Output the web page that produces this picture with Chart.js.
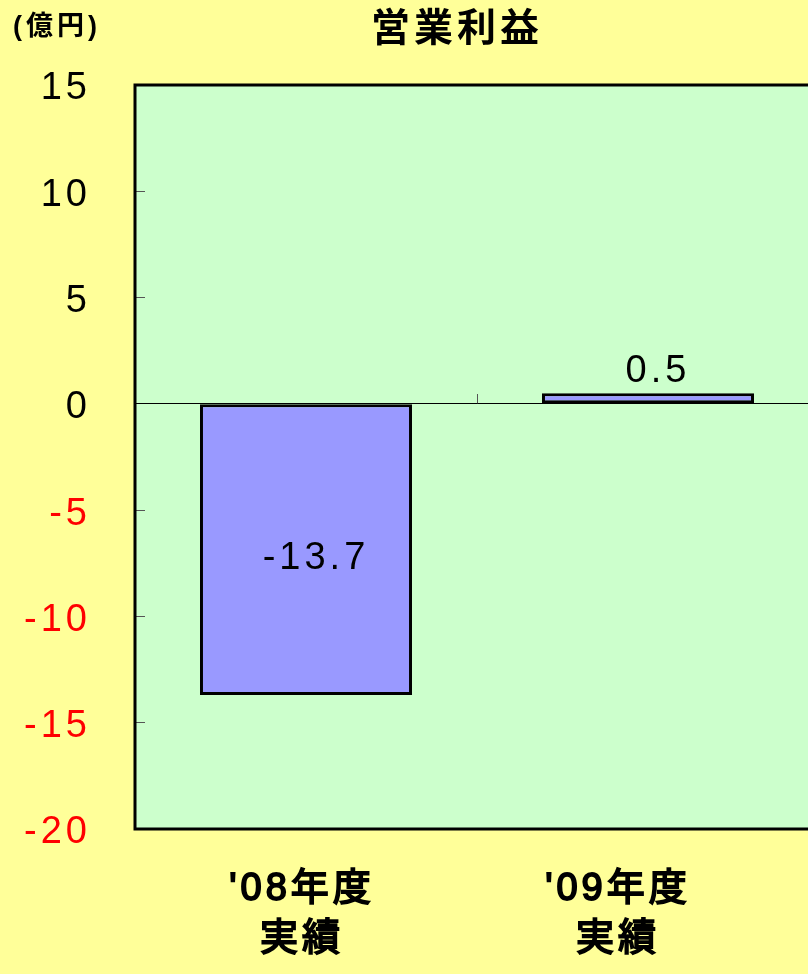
<!DOCTYPE html>
<html>
<head>
<meta charset="utf-8">
<script src="https://cdn.jsdelivr.net/npm/chart.js@4/dist/chart.umd.min.js"></script>
<style>
body { margin: 0; background: #FFFF99; overflow: hidden; }
</style>
</head>
<body>
<canvas id="myChart" width="830" height="974"></canvas>
<script>
// data
const categories = ["'08年度", "'09年度"];
const subLabels = ['実績', '実績'];
const profit = [-13.7, 0.5];
const yTicks = [-20, -15, -10, -5, 0, 5, 10, 15];
const chartTitle = '営業利益';
const unitLabel = '(億円)';

const family = "'Liberation Sans', 'Noto Sans CJK JP', sans-serif";

// yellow page, green plot, wide glyph spacing like the original
const paintBg = {
    id: 'paintBg',
    afterLayout: (chart) => {
        // title is centred a bit left of the plot in the original
        chart.titleBlock.left = 95;
    },
    beforeDraw: (chart) => {
        const {ctx, chartArea: {left, top, right, bottom}} = chart;
        ctx.save();
        ctx.fillStyle = '#FFFF99';
        ctx.fillRect(0, 0, chart.width, chart.height);
        ctx.fillStyle = '#CCFFCC';
        ctx.fillRect(left, top, right - left, bottom - top);
        ctx.restore();
        ctx.letterSpacing = '4px';
    },
    afterDraw: (chart) => {
        const {ctx, chartArea: {left, top, right, bottom}} = chart;
        ctx.save();
        ctx.strokeStyle = '#000';
        ctx.lineWidth = 3;
        ctx.strokeRect(left, top, right - left, bottom - top);
        ctx.font = 'bold 27px ' + family;
        ctx.fillStyle = '#000';
        ctx.textAlign = 'center';
        ctx.textBaseline = 'middle';
        ctx.fillText(unitLabel, 57, 28);
        ctx.restore();
    }
};

const valueLabels = {
    id: 'valueLabels',
    afterDatasetsDraw: (chart) => {
        const {ctx} = chart;
        const meta = chart.getDatasetMeta(0);
        ctx.save();
        ctx.font = '38px ' + family;
        ctx.fillStyle = '#000';
        ctx.textAlign = 'center';
        ctx.textBaseline = 'middle';
        meta.data.forEach((bar, i) => {
            const v = profit[i];
            const y = v < 0 ? (bar.y + bar.base) / 2 + 9 : bar.y - 22;
            ctx.fillText(String(v), bar.x + 10, y);
        });
        ctx.restore();
    }
};

const config = {
    type: 'bar',
    data: {
        labels: categories,
        datasets: [{
            data: profit,
            xAxisID: 'x',
            yAxisID: 'y',
            backgroundColor: '#9999FF',
            borderColor: '#000',
            borderWidth: 3,
            borderSkipped: false,
            categoryPercentage: 1,
            barPercentage: 0.62
        }]
    },
    options: {
        responsive: false,
        animation: false,
        devicePixelRatio: 1,
        layout: {padding: {left: 0, right: 11, top: 0, bottom: 14}},
        plugins: {
            legend: {display: false},
            tooltip: {enabled: false},
            title: {
                display: true,
                text: chartTitle,
                color: '#000',
                font: {size: 39, weight: 'bold', family: family},
                padding: {top: 7, bottom: 31.2}
            }
        },
        scales: {
            x: {
                type: 'category',
                position: {y: 0},
                grid: {offset: true, drawOnChartArea: false, tickLength: -10, color: '#555'},
                border: {color: '#000', width: 1},
                ticks: {display: false}
            },
            xLabels: {
                type: 'linear',
                axis: 'x',
                position: 'bottom',
                offset: false,
                bounds: 'data',
                min: -0.5285,
                max: 1.6361,
                afterBuildTicks: (scale) => {
                    scale.ticks = categories.map((c, i) => ({value: i}));
                },
                afterFit: (scale) => { scale.height = 131; },
                grid: {display: false, drawTicks: false, offset: false},
                border: {display: false},
                ticks: {
                    padding: 36,
                    color: '#000',
                    textStrokeColor: '#000',
                    textStrokeWidth: 1.8,
                    maxRotation: 0,
                    autoSkip: false,
                    font: {size: 38, family: family, lineHeight: 50 / 38},
                    callback: (value) => [categories[value], subLabels[value]]
                }
            },
            y: {
                position: 'left',
                min: yTicks[0],
                max: yTicks[yTicks.length - 1],
                afterBuildTicks: (scale) => {
                    scale.ticks = yTicks.map(v => ({value: v}));
                },
                afterFit: (scale) => { scale.width = 135; },
                grid: {drawOnChartArea: false, tickLength: -10, color: '#555'},
                border: {display: false},
                ticks: {
                    padding: 54,
                    labelOffset: 4,
                    font: {size: 38, family: family},
                    color: (c) => c.tick && c.tick.value < 0 ? '#FF0000' : '#000000',
                    callback: (value) => String(value)
                }
            }
        }
    },
    plugins: [paintBg, valueLabels]
};

const myChart = new Chart(document.getElementById('myChart'), config);
</script>
</body>
</html>
